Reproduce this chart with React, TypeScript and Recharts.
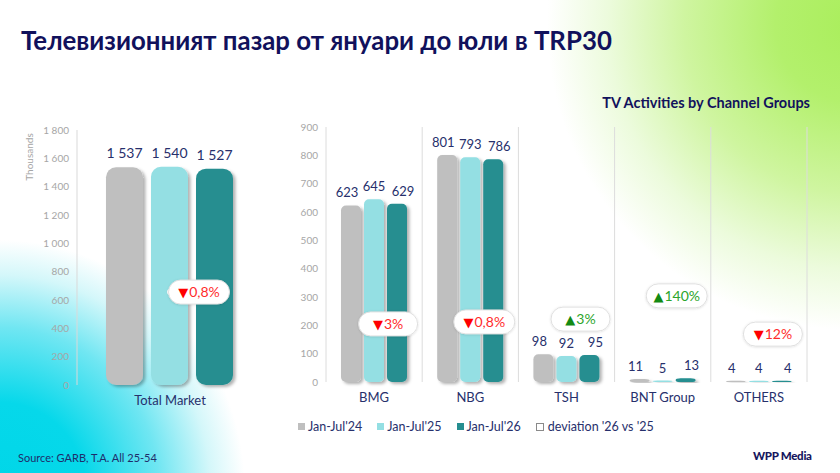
import React from "react";
import {
  ComposedChart,
  Bar,
  Line,
  XAxis,
  YAxis,
  CartesianGrid,
  LabelList,
} from "recharts";

// Total market (thousands of TRP30)
const totalCategories = ["Total Market"];
const totalJan24 = [1537];
const totalJan25 = [1540];
const totalJan26 = [1527];
const totalDeviation = [-0.8];
const totalDeviationAnchor = [656];
const totalTicks = [0, 200, 400, 600, 800, 1000, 1200, 1400, 1600, 1800];

// Channel groups
const groupCategories = ["BMG", "NBG", "TSH", "BNT Group", "OTHERS"];
const groupJan24 = [623, 801, 98, 11, 4];
const groupJan25 = [645, 793, 92, 5, 4];
const groupJan26 = [629, 786, 95, 13, 4];
const groupDeviation = [-3, -0.8, 3, 140, -12];
const groupDeviationAnchor = [205, 212, 222, 304, 169];
const groupTicks = [0, 100, 200, 300, 400, 500, 600, 700, 800, 900];

const seriesNames = ["Jan-Jul'24", "Jan-Jul'25", "Jan-Jul'26"];
const deviationName = "deviation '26 vs '25";

const COLORS = ["#bfbfbf", "#94dfe3", "#258e90"];
const NAVY = "#27306c";
const AXIS_GRAY = "#a6a6a6";
const FONT = "Lato, 'Open Sans', sans-serif";

const fmtThousands = (v: number) =>
  String(v).replace(/\B(?=(\d{3})+(?!\d))/g, " ");
const fmtPct = (v: number) => String(Math.abs(v)).replace(".", ",") + "%";

const buildRows = (
  cats: string[],
  a: number[],
  b: number[],
  c: number[],
  dev: number[],
  anchor: number[]
) =>
  cats.map((name, i) => ({
    name,
    y24: a[i],
    y25: b[i],
    y26: c[i],
    dev: dev[i],
    devPos: anchor[i],
  }));

const totalRows = buildRows(
  totalCategories,
  totalJan24,
  totalJan25,
  totalJan26,
  totalDeviation,
  totalDeviationAnchor
);
const groupRows = buildRows(
  groupCategories,
  groupJan24,
  groupJan25,
  groupJan26,
  groupDeviation,
  groupDeviationAnchor
);

// rounded bar with a soft shadow
const makeBarShape = (radius: number, filterId: string) => (props: any) => {
  const { x, y, width, height, fill } = props;
  if (!height || height <= 0) return <g />;
  return (
    <rect
      x={x}
      y={y}
      width={width}
      height={height}
      rx={radius}
      fill={fill}
      filter={`url(#${filterId})`}
    />
  );
};

// white pill with arrow + percentage
const makeBadge = (dx: number, filterId: string) => (props: any) => {
  const vb = props.viewBox || {};
  const x = (props.x ?? vb.x) as number;
  const y = (props.y ?? vb.y) as number;
  const v = Number(props.value);
  if (x == null || y == null || isNaN(v)) return null;
  const up = v > 0;
  const text = fmtPct(v);
  const w = text.length > 3 ? 61 : 59;
  const h = 24;
  const cx = x + dx;
  return (
    <g>
      <rect
        x={cx - w / 2}
        y={y - h / 2}
        width={w}
        height={h}
        rx={h / 2}
        fill="#ffffff"
        stroke="#e0e0e0"
        strokeWidth={1}
        filter={`url(#${filterId})`}
      />
      <text
        x={cx}
        y={y + 5}
        textAnchor="middle"
        fontSize={14}
        fontFamily={FONT}
      >
        <tspan
          fill={up ? "#138a13" : "#ff0000"}
          fontSize={13}
          fontFamily="'DejaVu Sans', sans-serif"
        >
          {up ? "▲" : "▼"}
        </tspan>
        <tspan dx={1} fill={up ? "#2ba52b" : "#ff2b2b"}>
          {text}
        </tspan>
      </text>
    </g>
  );
};

const ShadowDefs = ({ id }: { id: string }) => (
  <defs>
    <filter id={`${id}-bar`} x="-30%" y="-10%" width="160%" height="130%">
      <feDropShadow dx="2.5" dy="2" stdDeviation="1.8" floodColor="#000" floodOpacity="0.3" />
    </filter>
    <filter id={`${id}-badge`} x="-20%" y="-40%" width="140%" height="180%">
      <feDropShadow dx="0" dy="0.5" stdDeviation="1.2" floodColor="#000" floodOpacity="0.14" />
    </filter>
  </defs>
);

const CategoryTick = (props: any) => {
  const { x, y, payload } = props;
  return (
    <text
      x={x}
      y={y + 12}
      textAnchor="middle"
      fill={NAVY}
      fontSize={13}
      fontFamily={FONT}
    >
      {payload.value}
    </text>
  );
};

const Legend = () => (
  <div
    style={{
      position: "absolute",
      left: 298,
      top: 419,
      display: "flex",
      alignItems: "center",
      fontSize: 12.5,
      color: NAVY,
      fontFamily: FONT,
    }}
  >
    {seriesNames.map((n, i) => (
      <div
        key={n}
        style={{ display: "flex", alignItems: "center", marginRight: 15 }}
      >
        <span
          style={{
            width: 7,
            height: 7,
            background: COLORS[i],
            marginRight: 3,
            display: "inline-block",
          }}
        />
        {n}
      </div>
    ))}
    <div style={{ display: "flex", alignItems: "center" }}>
      <span
        style={{
          width: 6,
          height: 6,
          border: "1px solid #8a8a8a",
          background: "#fff",
          marginRight: 4,
          display: "inline-block",
        }}
      />
      {deviationName}
    </div>
  </div>
);

const ThousandsLabel = (props: any) => {
  const vb = props.viewBox || {};
  const x = vb.x + 6;
  const y = vb.y + 27;
  return (
    <text
      x={x}
      y={y}
      transform={`rotate(-90 ${x} ${y})`}
      textAnchor="middle"
      fill={AXIS_GRAY}
      fontSize={10}
      fontFamily={FONT}
    >
      Thousands
    </text>
  );
};

const TotalChart = () => (
  <ComposedChart
    width={280}
    height={310}
    data={totalRows}
    margin={{ top: 20, right: 17, bottom: 5, left: 27 }}
    barCategoryGap={29}
    barGap={8}
  >
    <ShadowDefs id="tot" />
    <XAxis
      dataKey="name"
      axisLine={false}
      tickLine={false}
      height={30}
      tick={<CategoryTick />}
      interval={0}
    />
    <YAxis
      width={50}
      domain={[0, 1800]}
      ticks={totalTicks}
      tickFormatter={fmtThousands}
      tickLine={false}
      axisLine={{ stroke: "#d9d9d9" }}
      tick={{ fill: AXIS_GRAY, fontSize: 10, fontFamily: FONT }}
      label={<ThousandsLabel />}
    />
    {(["y24", "y25", "y26"] as const).map((k, i) => (
      <Bar
        key={k}
        dataKey={k}
        name={seriesNames[i]}
        fill={COLORS[i]}
        shape={makeBarShape(10, "tot-bar")}
        isAnimationActive={false}
      >
        <LabelList
          dataKey={k}
          position="top"
          offset={9}
          formatter={(v: any) => fmtThousands(Number(v))}
          fill={NAVY}
          fontSize={14}
          fontFamily={FONT}
        />
      </Bar>
    ))}
    <Line
      dataKey="devPos"
      name={deviationName}
      stroke="none"
      dot={false}
      activeDot={false}
      isAnimationActive={false}
      legendType="none"
    >
      <LabelList dataKey="dev" content={makeBadge(29, "tot-badge")} />
    </Line>
  </ComposedChart>
);

// Excel nudges the outer labels apart so they don't collide
const groupLabelShift = [-4, 0, 6];

const GroupChart = () => (
  <ComposedChart
    width={560}
    height={310}
    data={groupRows}
    margin={{ top: 17, right: 33, bottom: 8, left: 6 }}
    barCategoryGap={15}
    barGap={3}
  >
    <ShadowDefs id="grp" />
    <CartesianGrid
      horizontal={false}
      stroke="#dcdcdc"
      verticalCoordinatesGenerator={({ offset }: any) =>
        groupCategories
          .map((_, i) => offset.left + (i * offset.width) / groupCategories.length)
          .concat([offset.left + offset.width])
      }
    />
    <XAxis
      dataKey="name"
      axisLine={false}
      tickLine={false}
      height={30}
      tick={<CategoryTick />}
      interval={0}
    />
    <YAxis
      width={40}
      domain={[0, 900]}
      ticks={groupTicks}
      tickLine={false}
      axisLine={false}
      tick={{ fill: AXIS_GRAY, fontSize: 10, fontFamily: FONT }}
    />
    {(["y24", "y25", "y26"] as const).map((k, i) => (
      <Bar
        key={k}
        dataKey={k}
        name={seriesNames[i]}
        fill={COLORS[i]}
        shape={makeBarShape(5, "grp-bar")}
        isAnimationActive={false}
      >
        <LabelList
          dataKey={k}
          position="top"
          offset={8}
          dx={groupLabelShift[i]}
          fill={NAVY}
          fontSize={13}
          fontFamily={FONT}
        />
      </Bar>
    ))}
    <Line
      dataKey="devPos"
      name={deviationName}
      stroke="none"
      dot={false}
      activeDot={false}
      isAnimationActive={false}
      legendType="none"
    >
      <LabelList dataKey="dev" content={makeBadge(14, "grp-badge")} />
    </Line>
  </ComposedChart>
);

export default function App() {
  return (
    <div
      style={{
        position: "absolute",
        left: 0,
        top: 0,
        width: 840,
        height: 473,
        overflow: "hidden",
        fontFamily: FONT,
        background: [
          "radial-gradient(circle 305px at 852px 25px, #aaee5c 0%, #b3f06c 25%, #cff5a0 55%, #ecfbdc 80%, rgba(255,255,255,0) 100%)",
          "radial-gradient(ellipse 245px 250px at 0px 490px, #00d6e8 0%, #06d8ea 35%, #70e6f2 65%, #d4f7fa 86%, rgba(255,255,255,0) 100%)",
          "#ffffff",
        ].join(", "),
      }}
    >
      <div
        style={{
          position: "absolute",
          left: 21,
          top: 24,
          fontSize: 25.8,
          fontWeight: 700,
          color: "#11115c",
          whiteSpace: "nowrap",
          lineHeight: "32px",
        }}
      >
        Телевизионният пазар от януари до юли в TRP30
      </div>
      <div
        style={{
          position: "absolute",
          right: 30,
          top: 94,
          fontSize: 14.5,
          fontWeight: 700,
          color: "#11115c",
          whiteSpace: "nowrap",
          lineHeight: "18px",
        }}
      >
        TV Activities by Channel Groups
      </div>
      <div style={{ position: "absolute", left: 0, top: 110 }}>
        <TotalChart />
      </div>
      <div style={{ position: "absolute", left: 280, top: 110 }}>
        <GroupChart />
      </div>
      <Legend />
      <div
        style={{
          position: "absolute",
          left: 18,
          top: 450,
          fontSize: 11,
          color: "#1f2d6b",
          whiteSpace: "nowrap",
          lineHeight: "15px",
        }}
      >
        Source: GARB, T.A. All 25-54
      </div>
      <div
        style={{
          position: "absolute",
          left: 753,
          top: 448,
          fontSize: 11.5,
          fontWeight: 900,
          color: "#16165e",
          whiteSpace: "nowrap",
          lineHeight: "15px",
          letterSpacing: -0.3,
        }}
      >
        WPP Media
      </div>
    </div>
  );
}
